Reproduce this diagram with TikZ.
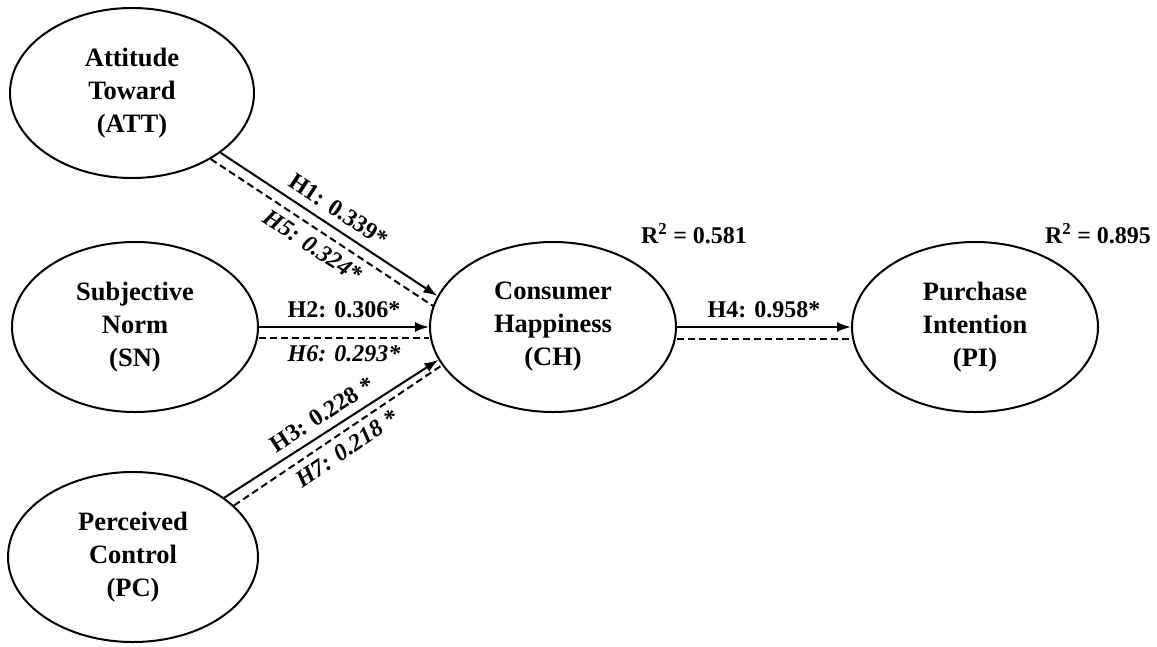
\documentclass[tikz,border=0pt]{standalone}
\usepackage{fontspec}
\setmainfont{Liberation Serif}
\usetikzlibrary{shapes.geometric,arrows.meta}

\tikzset{
  construct/.style={ellipse, draw, line width=2pt, minimum width=244pt,
    minimum height=170pt, inner sep=0pt, align=center,
    font=\fontsize{26.5}{33}\selectfont\bfseries},
  path/.style={line width=2pt, -{Latex[length=14pt,width=10pt]}},
  mediated/.style={line width=2pt, dash pattern=on 7pt off 4pt},
  coef/.style={font=\fontsize{24}{28}\selectfont\bfseries, inner sep=0pt},
  coefit/.style={font=\fontsize{24}{28}\selectfont\bfseries\itshape, inner sep=0pt},
  rsq/.style={font=\fontsize{24}{28}\selectfont\bfseries, inner sep=0pt}
}

\begin{document}
\begin{tikzpicture}[x=1pt,y=-1pt]
\useasboundingbox (0,0) rectangle (1157,646);

% constructs
\node[construct] (att) at (132,93)  {Attitude\\Toward\\(ATT)};
\node[construct, minimum width=246pt] (sn) at (135,327) {Subjective\\Norm\\(SN)};
\node[construct, minimum width=250pt] (pc) at (133,557) {Perceived\\Control\\(PC)};
\node[construct, minimum width=246pt] (ch) at (553,327) {Consumer\\Happiness\\(CH)};
\node[construct, minimum width=246pt] (pi) at (975,327) {Purchase\\Intention\\(PI)};

% explained variance
\node[rsq] (r2ch) at (694,234) {R\textsuperscript{2} = 0.581};
\node[rsq] (r2pi) at (1098,234) {R\textsuperscript{2} = 0.895};

% direct paths (solid) and mediated paths (dashed)
\draw[path] (att.-34.6) -- node[coef, sloped, above=8pt] {H1: 0.339*} (ch.165.5);
\draw[mediated] (att.-40) -- node[coefit, sloped, below=7pt] {H5: 0.324*} (ch.170);

\draw[path] (sn.east) -- node[coef, above=8pt] {H2: 0.306*} (ch.west);
\draw[mediated] ([yshift=-11pt]sn.east) -- node[coefit, below=7pt] {H6: 0.293*} ([yshift=-11pt]ch.west);

\draw[path] (pc.33) -- node[coef, sloped, above=8pt] {H3: 0.228 *} (ch.196.5);
\draw[mediated] (pc.27.5) -- node[coefit, sloped, below=7pt] {H7: 0.218 *} (ch.199.5);

\draw[path] (ch.east) -- node[coef, above=8pt] {H4: 0.958*} (pi.west);
\draw[mediated] ([yshift=-12pt]ch.east) -- ([yshift=-12pt]pi.west);
\end{tikzpicture}
\end{document}
